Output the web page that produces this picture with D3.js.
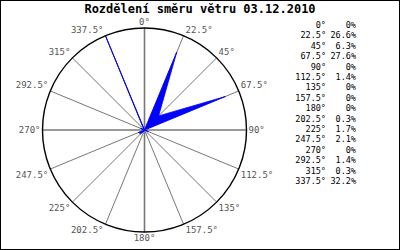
<!DOCTYPE html>
<html>
<head>
<meta charset="utf-8">
<script src="https://cdn.jsdelivr.net/npm/d3@7"></script>
<style>
  body { margin: 0; background: #fff; }
  svg { display: block; }
</style>
</head>
<body>
<svg id="chart" width="400" height="250"></svg>
<script>
'use strict';

var title = 'Rozdělení směru větru 03.12.2010';
var directions = [0, 22.5, 45, 67.5, 90, 112.5, 135, 157.5, 180, 202.5, 225, 247.5, 270, 292.5, 315, 337.5];
var percents = [0, 26.6, 6.3, 27.6, 0, 1.4, 0, 0, 0, 0.3, 1.7, 2.1, 0, 1.4, 0.3, 32.2];

var width = 400, height = 250;
var cx = 144.5, cy = 130, radius = 102;

var svg = d3.select('#chart');

//Frame
svg.append('rect').attr('x', 0.5).attr('y', 0.5).attr('width', width - 1).attr('height', height - 1)
  .attr('fill', '#fff').attr('stroke', '#000');

//Title
svg.append('text').attr('x', 200).attr('y', 13).attr('text-anchor', 'middle')
  .style('font-family', 'DejaVu Sans Mono').style('font-weight', 'bold').style('font-size', '12px')
  .text(title);

//Scales
var rScale = d3.scaleLinear().domain([0, d3.max(percents)]).range([0, radius]);
var aScale = d3.scaleLinear().domain([0, 360]).range([0, 2 * Math.PI]);

var g = svg.append('g').attr('transform', 'translate(' + cx + ',' + cy + ')');

//Spokes
g.selectAll('line.spoke').data(directions).enter().append('line').classed('spoke', true)
  .attr('x1', 0).attr('y1', 0)
  .attr('x2', function (d) { return radius * Math.sin(aScale(d)); })
  .attr('y2', function (d) { return -radius * Math.cos(aScale(d)); })
  .attr('stroke', '#777')
  .attr('stroke-width', function (d) { return d % 90 === 0 ? 1.6 : 1; });

//Outer circle
g.append('circle').attr('r', radius).attr('fill', 'none').attr('stroke', '#000').attr('stroke-width', 1.4);

//Wind polygon
var radial = d3.lineRadial()
  .angle(function (d, i) { return aScale(directions[i]); })
  .radius(function (d) { return rScale(d); })
  .curve(d3.curveLinearClosed);

g.append('path').datum(percents).attr('d', radial)
  .attr('fill', '#0000ff').attr('stroke', '#0000ff').attr('stroke-width', 0.8)
  .attr('stroke-linejoin', 'miter');

//Direction labels
g.selectAll('text.dir').data(directions).enter().append('text').classed('dir', true)
  .attr('x', function (d) {
    var s = Math.sin(aScale(d));
    return radius * s + (Math.abs(s) < 0.01 ? 0 : (s > 0 ? 2 : -2));
  })
  .attr('y', function (d) {
    var c = Math.cos(aScale(d));
    var y = -radius * c;
    if (Math.abs(c) < 0.01) return y + 3;
    return c > 0 ? y - 3 : y + 9;
  })
  .attr('text-anchor', function (d) {
    var s = Math.sin(aScale(d));
    if (Math.abs(s) < 0.01) return 'middle';
    return s > 0 ? 'start' : 'end';
  })
  .style('font-family', 'DejaVu Sans Mono').style('font-size', '9px').attr('fill', '#555')
  .text(function (d) { return d + '°'; });

//Table
var rowY = d3.scaleLinear().domain([0, directions.length - 1]).range([28, 184]);
var table = svg.append('g').style('font-family', 'DejaVu Sans Mono').style('font-size', '8.5px');

table.selectAll('text.deg').data(directions).enter().append('text').classed('deg', true)
  .attr('x', 326).attr('y', function (d, i) { return rowY(i); }).attr('text-anchor', 'end')
  .text(function (d) { return d + '°'; });

table.selectAll('text.pct').data(percents).enter().append('text').classed('pct', true)
  .attr('x', 356).attr('y', function (d, i) { return rowY(i); }).attr('text-anchor', 'end')
  .text(function (d) { return d + '%'; });
</script>
</body>
</html>
